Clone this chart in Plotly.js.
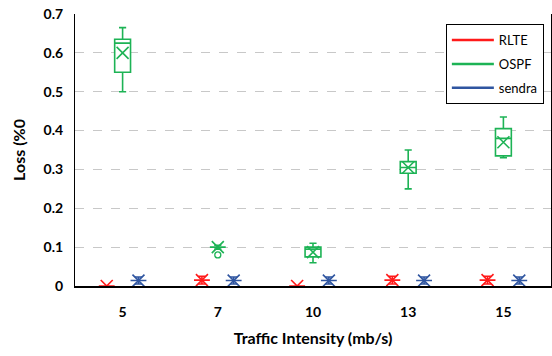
<!DOCTYPE html>
<html>
<head>
<meta charset="utf-8">
<script src="https://cdn.plot.ly/plotly-3.0.1.min.js"></script>
<style>html,body{margin:0;padding:0;background:#fff;}#chart{width:552px;height:356px;}</style>
</head>
<body>
<div id="chart"></div>
<script>
// Categories (traffic intensity, mb/s)
const categories = ['5', '7', '10', '13', '15'];
const seriesNames = ['RLTE', 'OSPF', 'sendra'];
const seriesColors = ['#ff1a1a', '#1db355', '#2f55a0'];

// RLTE box statistics
const rlteMin    = [0, 0.005, 0, 0.005, 0.005];
const rlteQ1     = [0, 0.015, 0, 0.015, 0.015];
const rlteMedian = [0, 0.015, 0, 0.015, 0.015];
const rlteQ3     = [0, 0.015, 0, 0.015, 0.015];
const rlteMax    = [0, 0.025, 0, 0.025, 0.025];
const rlteMean   = [0, 0.015, 0, 0.015, 0.015];

// OSPF box statistics
const ospfMin    = [0.50, 0.095, 0.06, 0.25, 0.33];
const ospfQ1     = [0.55, 0.10, 0.075, 0.29, 0.335];
const ospfMedian = [0.625, 0.10, 0.095, 0.305, 0.38];
const ospfQ3     = [0.635, 0.10, 0.10, 0.32, 0.405];
const ospfMax    = [0.665, 0.105, 0.11, 0.35, 0.435];
const ospfMean   = [0.60, 0.10, 0.087, 0.305, 0.37];
const ospfOutlier = [null, 0.08, null, null, null];

// sendra box statistics
const sendraMin    = [0.005, 0.005, 0.005, 0.005, 0.005];
const sendraQ1     = [0.014, 0.014, 0.014, 0.014, 0.014];
const sendraMedian = [0.014, 0.014, 0.014, 0.014, 0.014];
const sendraQ3     = [0.014, 0.014, 0.014, 0.014, 0.014];
const sendraMax    = [0.023, 0.023, 0.023, 0.023, 0.023];
const sendraMean   = [0.014, 0.014, 0.014, 0.014, 0.014];

// Axis ticks
const yTickVals = [0, 0.1, 0.2, 0.3, 0.4, 0.5, 0.6, 0.7];
const yTickText = ['0', '0.1', '0.2', '0.3', '0.4', '0.5', '0.6', '0.7'];

const stats = [
  {min: rlteMin, q1: rlteQ1, med: rlteMedian, q3: rlteQ3, max: rlteMax, mean: rlteMean},
  {min: ospfMin, q1: ospfQ1, med: ospfMedian, q3: ospfQ3, max: ospfMax, mean: ospfMean},
  {min: sendraMin, q1: sendraQ1, med: sendraMedian, q3: sendraQ3, max: sendraMax, mean: sendraMean}
];

const FONT = 'Lato, "Open Sans", sans-serif';
const traces = [];

stats.forEach((s, i) => {
  traces.push({
    type: 'box', name: seriesNames[i], x: categories,
    q1: s.q1, median: s.med, q3: s.q3, lowerfence: s.min, upperfence: s.max,
    offsetgroup: seriesNames[i], showlegend: false, hoverinfo: 'skip',
    fillcolor: '#ffffff', line: {color: seriesColors[i], width: 1.6},
    whiskerwidth: 0.45, boxpoints: false
  });
});

stats.forEach((s, i) => {
  traces.push({
    type: 'scatter', mode: 'markers', name: seriesNames[i] + ' mean', x: categories, y: s.mean,
    offsetgroup: seriesNames[i], showlegend: false, hoverinfo: 'skip',
    marker: {symbol: 'x-thin-open', size: 12, line: {color: seriesColors[i], width: 1.6}, color: seriesColors[i]}
  });
});

traces.push({
  type: 'scatter', mode: 'markers', name: 'OSPF outlier', x: categories, y: ospfOutlier,
  offsetgroup: 'OSPF', showlegend: false, hoverinfo: 'skip',
  marker: {symbol: 'circle-open', size: 6, line: {color: seriesColors[1], width: 1.3}, color: seriesColors[1]}
});

// legend entries (lines)
seriesNames.forEach((n, i) => {
  traces.push({
    type: 'scatter', mode: 'lines', name: n, x: [null], y: [null],
    offsetgroup: n, legendgroup: n, showlegend: true,
    line: {color: seriesColors[i], width: 2.5}
  });
});

const layout = {
  width: 552, height: 356,
  margin: {l: 75, r: 1, t: 14, b: 70},
  paper_bgcolor: '#ffffff', plot_bgcolor: '#ffffff',
  boxmode: 'group', boxgap: 0.5, boxgroupgap: 0,
  scattermode: 'group', scattergap: 0.5,
  showlegend: true,
  legend: {
    x: 0.985, xanchor: 'right', y: 0.963, yanchor: 'top',
    bgcolor: '#ffffff', bordercolor: '#000000', borderwidth: 1,
    font: {family: FONT, size: 13, color: '#000'},
    itemwidth: 42, tracegroupgap: 4, traceorder: 'grouped'
  },
  xaxis: {
    type: 'category', categoryorder: 'array', categoryarray: categories,
    showgrid: false, zeroline: false,
    showline: true, linecolor: '#000000', linewidth: 2,
    ticks: '', ticklabelstandoff: 12,
    tickfont: {family: FONT, size: 14, weight: 'bold', color: '#000'},
    title: {text: 'Traffic Intensity (mb/s)', standoff: 14,
            font: {family: FONT, size: 16, weight: 'bold', color: '#000'}}
  },
  yaxis: {
    range: [0, 0.7], tickvals: yTickVals, ticktext: yTickText,
    showgrid: true, gridcolor: '#c8c8c8', gridwidth: 1, griddash: 'dash',
    zeroline: false, showline: true, linecolor: '#000000', linewidth: 1, mirror: true,
    ticks: '', ticklabelstandoff: 8,
    tickfont: {family: FONT, size: 14, weight: 'bold', color: '#000'},
    title: {text: 'Loss (%0', standoff: 14,
            font: {family: FONT, size: 16, weight: 'bold', color: '#000'}}
  }
};

Plotly.newPlot('chart', traces, layout, {displayModeBar: false, staticPlot: true});
</script>
</body>
</html>
